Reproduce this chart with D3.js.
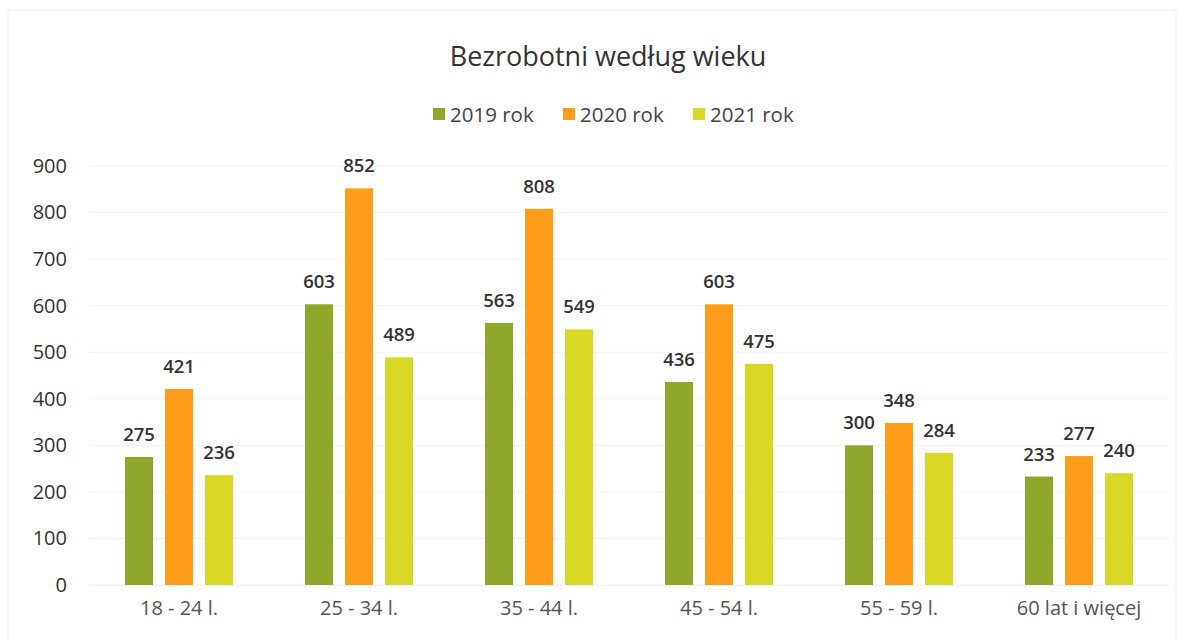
<!DOCTYPE html>
<html><head><meta charset="utf-8">
<script src="https://cdn.jsdelivr.net/npm/d3@7"></script>
<style>body{margin:0;background:#fff}svg{display:block}</style>
</head><body>
<svg id="c" width="1188" height="640"></svg>
<script>
const categories = ["18 - 24 l.", "25 - 34 l.", "35 - 44 l.", "45 - 54 l.", "55 - 59 l.", "60 lat i więcej"];
const seriesNames = ["2019 rok", "2020 rok", "2021 rok"];
const v2019 = [275, 603, 563, 436, 300, 233];
const v2020 = [421, 852, 808, 603, 348, 277];
const v2021 = [236, 489, 549, 475, 284, 240];
const yTicks = [0, 100, 200, 300, 400, 500, 600, 700, 800, 900];
const colors = ["#8ea62a", "#fd9d1a", "#d8d825"];
const series = [v2019, v2020, v2021];

(function () {
const svg = d3.select("#c");
const font = "'Open Sans', 'Noto Sans', sans-serif";
const pLeft = 89, pRight = 1169, pTop = 166, pBottom = 585;

const x0 = d3.scaleBand().domain(categories).range([pLeft, pRight]).padding(0);
const x1 = d3.scaleBand().domain(seriesNames).range([36, 144]).paddingInner(0.3).paddingOuter(0);
const y = d3.scaleLinear().domain([0, 900]).range([pBottom, pTop]);

// faint border
svg.append("rect").attr("x", 8).attr("y", 10).attr("width", 1168).attr("height", 640).attr("fill", "none").attr("stroke", "#ececec");

// gridlines
svg.append("g").selectAll("line").data(yTicks).join("line")
  .attr("x1", pLeft).attr("x2", pRight).attr("y1", d => y(d)).attr("y2", d => y(d))
  .attr("stroke", "#f2f2f2").attr("stroke-width", 1);

// y axis
const yAxis = svg.append("g").attr("transform", `translate(${pLeft},0)`)
  .call(d3.axisLeft(y).tickValues(yTicks).tickSize(0).tickPadding(22));
yAxis.select(".domain").remove();
yAxis.selectAll("text").attr("font-family", font).attr("font-size", 20).attr("fill", "#333");

// x axis labels
const xAxis = svg.append("g").attr("transform", `translate(0,${pBottom})`)
  .call(d3.axisBottom(x0).tickSize(0).tickPadding(16));
xAxis.select(".domain").attr("stroke", "#f2f2f2");
xAxis.selectAll("text").attr("font-family", font).attr("font-size", 20).attr("fill", "#555");

// bars
const groups = svg.append("g").selectAll("g").data(categories).join("g")
  .attr("transform", d => `translate(${x0(d)},0)`);
groups.selectAll("rect").data((d, i) => series.map((s, j) => ({k: seriesNames[j], v: s[i], j})))
  .join("rect")
  .attr("x", d => x1(d.k)).attr("width", x1.bandwidth())
  .attr("y", d => y(d.v)).attr("height", d => y(0) - y(d.v))
  .attr("fill", d => colors[d.j]);
groups.selectAll("text").data((d, i) => series.map((s, j) => ({k: seriesNames[j], v: s[i], j})))
  .join("text")
  .attr("x", d => x1(d.k) + x1.bandwidth() / 2).attr("y", d => y(d.v) - 16)
  .attr("text-anchor", "middle").attr("font-family", font).attr("font-size", 18.5)
  .attr("font-weight", 600).attr("fill", "#333").text(d => d.v);

// title
svg.append("text").attr("x", 608).attr("y", 66).attr("text-anchor", "middle")
  .attr("font-family", font).attr("font-size", 27).attr("fill", "#333").text("Bezrobotni według wieku");

// legend
const legX = [433, 563, 693];
const leg = svg.append("g").selectAll("g").data(seriesNames).join("g")
  .attr("transform", (d, i) => `translate(${legX[i]},108)`);
leg.append("rect").attr("width", 12).attr("height", 12).attr("fill", (d, i) => colors[i]);
leg.append("text").attr("x", 17).attr("y", 14).attr("font-family", font).attr("font-size", 20.5)
  .attr("fill", "#444").text(d => d);
})();
</script>
</body></html>
